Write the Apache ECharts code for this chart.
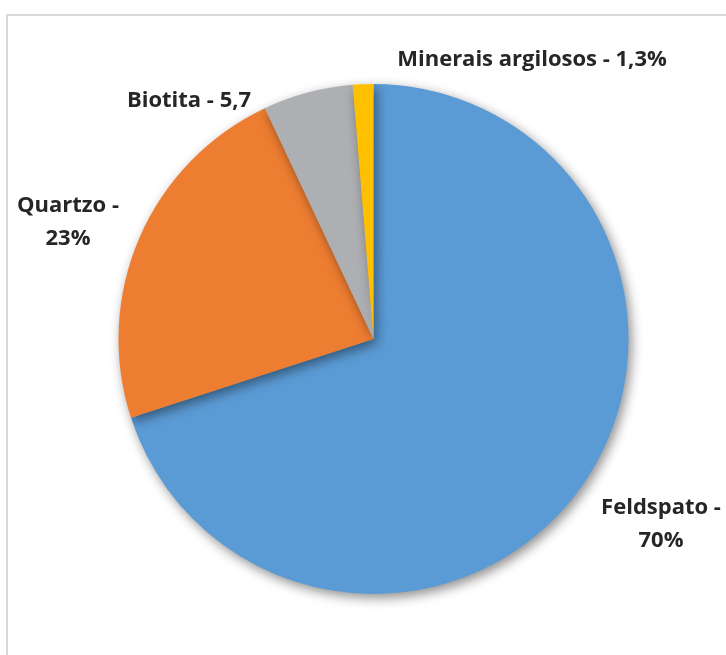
<!DOCTYPE html>
<html><head><meta charset="utf-8">
<script src="https://cdn.jsdelivr.net/npm/echarts@6/dist/echarts.min.js"></script>
<style>html,body{margin:0;padding:0;background:#fff}#c{width:726px;height:655px}</style>
</head><body><div id="c"></div>
<script>
const names = ["Feldspato", "Quartzo", "Biotita", "Minerais argilosos"];
const values = [70, 23, 5.7, 1.3];
const suffixes = ["%", "%", "", "%"];
const breaks = [true, true, false, false];
const colors = ["#5B9BD5", "#ED7D31", "#ADAFB3", "#FFC000"];
const labelPos = [[661, 524], [68, 222], [189, 101], [532, 60]];

const data = names.map((n, i) => ({
  name: n, value: values[i],
  itemStyle: { color: colors[i] }
}));

const chart = echarts.init(document.getElementById('c'));
chart.setOption({
  backgroundColor: '#fff',
  animation: false,
  graphic: [{
    type: 'rect', shape: { x: 7, y: 15, width: 740, height: 660 },
    style: { fill: 'none', stroke: '#d9d9d9', lineWidth: 2 }, silent: true, z: -1
  }],
  series: [{
    type: 'pie',
    center: [373.5, 339],
    radius: [0, 255],
    startAngle: 90,
    clockwise: true,
    data: data,
    itemStyle: {
      shadowBlur: 12, shadowOffsetX: 3, shadowOffsetY: 4, shadowColor: 'rgba(0,0,0,0.45)'
    },
    label: {
      show: true, position: 'outside', alignTo: 'none', overflow: 'none', width: 400,
      fontFamily: '"Open Sans", sans-serif',
      fontWeight: 'bold', fontSize: 22, color: '#262626', lineHeight: 33,
      formatter: p => {
        const i = p.dataIndex;
        const v = String(values[i]).replace('.', ',');
        return names[i] + ' -' + (breaks[i] ? '\n' : ' ') + v + suffixes[i];
      }
    },
    labelLine: { show: false },
    labelLayout: p => ({
      x: labelPos[p.dataIndex][0], y: labelPos[p.dataIndex][1],
      align: 'center', verticalAlign: 'middle'
    })
  }]
});
</script></body></html>
